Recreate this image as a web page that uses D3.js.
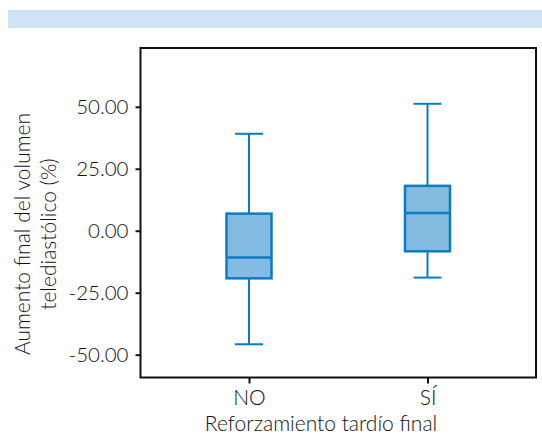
<!DOCTYPE html>
<html>
<head>
<meta charset="utf-8">
<script src="https://cdn.jsdelivr.net/npm/d3@7"></script>
<style>
  html, body { margin: 0; padding: 0; background: #fff; }
  svg { display: block; }
  text { font-family: Lato, "Open Sans", sans-serif; font-weight: 300; fill: #111; }
</style>
</head>
<body>
<svg id="chart" width="542" height="438"></svg>
<script>
// Groups and five-number summaries (whisker low, Q1, median, Q3, whisker high)
const categories = ["NO", "SÍ"];
const whiskerLow = [-45.8, -18.9];
const q1 = [-19.2, -8.3];
const median = [-10.8, 7.1];
const q3 = [6.9, 18.1];
const whiskerHigh = [39.1, 51.2];
const yTicks = [-50, -25, 0, 25, 50];

const svg = d3.select("#chart");

// Light blue header band
svg.append("rect")
  .attr("x", 8).attr("y", 10).attr("width", 534).attr("height", 18)
  .attr("fill", "#cee4f2");

const plot = { left: 140.5, right: 536, top: 48, bottom: 377.5 };

const y = d3.scaleLinear().domain([-59.2, 73.7]).range([plot.bottom, plot.top]);
const x = d3.scalePoint().domain(categories)
  .range([249, 427.5]);

// Frame
svg.append("rect")
  .attr("x", plot.left).attr("y", plot.top)
  .attr("width", plot.right - plot.left).attr("height", plot.bottom - plot.top)
  .attr("fill", "none").attr("stroke", "#111").attr("stroke-width", 2);

// Y axis, plain hyphen for negatives
const fmt = d3.format(".2f");
const yAxis = svg.append("g")
  .attr("transform", `translate(${plot.left},0)`)
  .call(d3.axisLeft(y).tickValues(yTicks).tickSize(5).tickPadding(7)
    .tickFormat(d => fmt(d).replace("\u2212", "-")));
yAxis.select(".domain").remove();
yAxis.selectAll(".tick line").attr("stroke", "#111").attr("stroke-width", 2);
yAxis.selectAll(".tick text")
  .attr("font-size", 20.5).attr("font-family", "Lato, sans-serif")
  .attr("font-weight", 300).attr("fill", "#111");

// X axis
const xAxis = svg.append("g")
  .attr("transform", `translate(0,${plot.bottom})`)
  .call(d3.axisBottom(x).tickSize(6).tickPadding(7));
xAxis.select(".domain").remove();
xAxis.selectAll(".tick line").attr("stroke", "#111").attr("stroke-width", 2);
xAxis.selectAll(".tick text")
  .attr("font-size", 21).attr("font-family", "Lato, sans-serif")
  .attr("font-weight", 300).attr("fill", "#111");

// Axis titles
svg.append("text")
  .attr("x", 321).attr("y", 431)
  .attr("text-anchor", "middle").attr("font-size", 21)
  .text("Reforzamiento tardío final");

const yTitle = svg.append("text")
  .attr("transform", "translate(0,234) rotate(-90)")
  .attr("text-anchor", "middle").attr("font-size", 21);
yTitle.append("tspan").attr("x", 0).attr("y", 30).text("Aumento final del volumen");
yTitle.append("tspan").attr("x", 0).attr("y", 56).text("telediastólico (%)");

// Boxplots
const stroke = "#0b7cc3";
const fill = "#83bce0";
const boxW = 45, capW = 28;

const groups = svg.selectAll(".box")
  .data(categories.map((c, i) => ({
    c, lo: whiskerLow[i], q1: q1[i], med: median[i], q3: q3[i], hi: whiskerHigh[i]
  })))
  .enter().append("g").attr("class", "box")
  .attr("transform", d => `translate(${x(d.c)},0)`);

// Whisker stems
groups.append("line")
  .attr("x1", 0).attr("x2", 0)
  .attr("y1", d => y(d.hi)).attr("y2", d => y(d.q3))
  .attr("stroke", stroke).attr("stroke-width", 2);
groups.append("line")
  .attr("x1", 0).attr("x2", 0)
  .attr("y1", d => y(d.q1)).attr("y2", d => y(d.lo))
  .attr("stroke", stroke).attr("stroke-width", 2);

// Caps
groups.append("line")
  .attr("x1", -capW / 2).attr("x2", capW / 2)
  .attr("y1", d => y(d.hi)).attr("y2", d => y(d.hi))
  .attr("stroke", stroke).attr("stroke-width", 2);
groups.append("line")
  .attr("x1", -capW / 2).attr("x2", capW / 2)
  .attr("y1", d => y(d.lo)).attr("y2", d => y(d.lo))
  .attr("stroke", stroke).attr("stroke-width", 2);

// Box
groups.append("rect")
  .attr("x", -boxW / 2).attr("width", boxW)
  .attr("y", d => y(d.q3)).attr("height", d => y(d.q1) - y(d.q3))
  .attr("fill", fill).attr("stroke", stroke).attr("stroke-width", 2.5);

// Median
groups.append("line")
  .attr("x1", -boxW / 2).attr("x2", boxW / 2)
  .attr("y1", d => y(d.med)).attr("y2", d => y(d.med))
  .attr("stroke", stroke).attr("stroke-width", 2.5);
</script>
</body>
</html>
